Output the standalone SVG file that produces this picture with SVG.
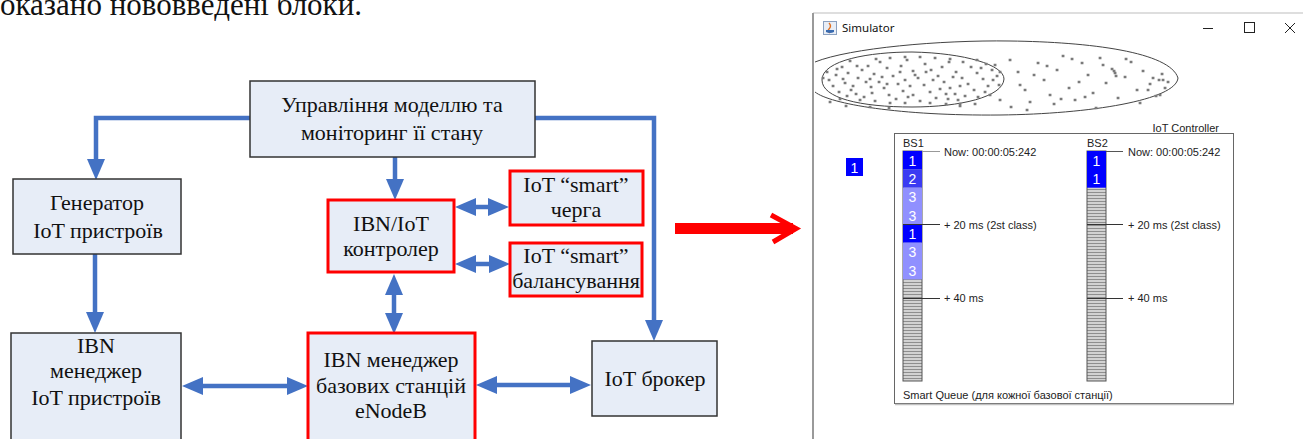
<svg xmlns="http://www.w3.org/2000/svg" width="1303" height="439" viewBox="0 0 1303 439">
  <style>
    .box { fill: #e7edf7; stroke: #333; stroke-width: 1.5; }
    .new { fill: #e7edf7; stroke: #ff0000; stroke-width: 3; }
    .lbl { font-family: "Liberation Serif", "Times New Roman", serif; font-size: 22px; fill: #111; text-anchor: middle; }
    .conn { fill: none; stroke: #4472c4; stroke-width: 4.5; }
    .ui { font-family: "Liberation Sans", Arial, sans-serif; font-size: 11px; fill: #222; }
    .cell { font-family: "Liberation Sans", Arial, sans-serif; font-size: 14px; fill: #fff; text-anchor: middle; }
    .tick { stroke: #333; stroke-width: 1; }
  </style>
  <defs>
    <marker id="arrow" markerUnits="userSpaceOnUse" markerWidth="22" markerHeight="18" refX="10" refY="9" orient="auto-start-reverse">
      <path d="M0,0 L21,9 L0,18 z" fill="#4472c4"/>
    </marker>
    <pattern id="stripes" patternUnits="userSpaceOnUse" width="19" height="3">
      <rect width="19" height="3" fill="#d2d2d2"/>
      <rect width="19" height="1" fill="#8e8e8e"/>
    </pattern>
  </defs>

  <rect width="1303" height="439" fill="#fff"/>

  <!-- paragraph text above the figure -->
  <text x="0" y="15" font-family="Liberation Serif, serif" font-size="31" fill="#111">оказано нововведені блоки.</text>

  <!-- connectors -->
  <g id="connectors" class="conn">
    <path d="M250,118 H96 V169" marker-end="url(#arrow)"/>
    <path d="M535,118 H654 V330" marker-end="url(#arrow)"/>
    <path d="M395,157 V189" marker-end="url(#arrow)"/>
    <path d="M95,254 V322" marker-end="url(#arrow)"/>
    <path d="M466,207 H498" marker-start="url(#arrow)" marker-end="url(#arrow)"/>
    <path d="M466,264 H499" marker-start="url(#arrow)" marker-end="url(#arrow)"/>
    <path d="M394,285 V323" marker-start="url(#arrow)" marker-end="url(#arrow)"/>
    <path d="M193,386 H297" marker-start="url(#arrow)" marker-end="url(#arrow)"/>
    <path d="M487,385 H580" marker-start="url(#arrow)" marker-end="url(#arrow)"/>
  </g>

  <g id="model-control">
    <rect class="box" x="250" y="81" width="285" height="76"/>
    <text class="lbl" x="392" y="112">Управління моделлю та</text>
    <text class="lbl" x="392" y="140">моніторинг її стану</text>
  </g>

  <g id="generator">
    <rect class="box" x="13" y="179" width="168" height="75"/>
    <text class="lbl" x="97" y="210">Генератор</text>
    <text class="lbl" x="98" y="238">IoT пристроїв</text>
  </g>

  <g id="ibn-iot-controller">
    <rect class="new" x="328" y="200" width="126" height="72"/>
    <text class="lbl" x="391" y="231">IBN/IoT</text>
    <text class="lbl" x="391" y="256">контролер</text>
  </g>

  <g id="smart-queue">
    <rect class="new" x="510" y="171" width="133" height="54"/>
    <text class="lbl" x="576" y="192">IoT “smart”</text>
    <text class="lbl" x="576" y="217">черга</text>
  </g>

  <g id="smart-balancing">
    <rect class="new" x="510" y="243" width="132" height="53"/>
    <text class="lbl" x="576" y="263">IoT “smart”</text>
    <text class="lbl" x="576" y="288">балансування</text>
  </g>

  <g id="ibn-device-manager">
    <rect class="box" x="11" y="333" width="170" height="110"/>
    <text class="lbl" x="96" y="353">IBN</text>
    <text class="lbl" x="96" y="378" font-size="20">менеджер</text>
    <text class="lbl" x="96" y="405">IoT пристроїв</text>
  </g>

  <g id="ibn-bs-manager">
    <rect class="new" x="308" y="333" width="167" height="110"/>
    <text class="lbl" x="391" y="367">IBN менеджер</text>
    <text class="lbl" x="391" y="393">базових станцій</text>
    <text class="lbl" x="391" y="418">eNodeB</text>
  </g>

  <g id="iot-broker">
    <rect class="box" x="592" y="341" width="125" height="75"/>
    <text class="lbl" x="655" y="386">IoT брокер</text>
  </g>

  <!-- red transition arrow -->
  <g id="red-arrow">
    <rect x="675" y="223" width="118" height="11" fill="#ff0000"/>
    <polyline points="771,215 796,228.5 773,242" fill="none" stroke="#ff0000" stroke-width="5" stroke-linejoin="miter"/>
  </g>

  <!-- simulator window -->
  <g id="simulator-window">
    <line x1="813" y1="13" x2="1303" y2="13" stroke="#bdbdbd" stroke-width="1"/>
    <line x1="813" y1="13" x2="813" y2="439" stroke="#9a9a9a" stroke-width="2"/>
    <!-- title bar icon -->
    <rect x="823.5" y="21.5" width="13" height="13" fill="#e9eef6" stroke="#8aa0c0" stroke-width="1"/>
    <path d="M829,23 q3,3 0,6 q-2,2 1,4" fill="none" stroke="#e07020" stroke-width="1.4"/>
    <path d="M826,30 h8 v2 q-4,2 -8,0 z" fill="#3a6bb0"/>
    <text x="842" y="32" font-family="Noto Sans, Open Sans, sans-serif" font-size="11.5" fill="#111">Simulator</text>
    <!-- window buttons -->
    <line x1="1203" y1="28.5" x2="1213" y2="28.5" stroke="#222" stroke-width="1"/>
    <rect x="1244.5" y="22.5" width="10" height="10" fill="none" stroke="#222" stroke-width="1"/>
    <path d="M1285,23 L1295,33 M1295,23 L1285,33" stroke="#222" stroke-width="1"/>
  </g>

  <g id="coverage-map">
    <path d="M815,62 C850,48 940,40 1010,41 C1090,42 1170,52 1178,78 C1176,100 1090,114 1000,115 C900,116 830,104 815,92" fill="none" stroke="#444" stroke-width="1"/>
    <path d="M822,80 C822,60 870,52 912,52 C965,53 1004,65 1004,79 C1003,97 960,107 912,107 C860,107 822,98 822,80 z" fill="none" stroke="#444" stroke-width="1"/>
    <path fill="none" stroke="#7a7a7a" stroke-width="2.7" stroke-linecap="square" d="M842,67h.1M848,73h.1M836,75h.1M829,80h.1M833,86h.1M845,83h.1M851,90h.1M858,78h.1M862,70h.1M868,66h.1M874,74h.1M879,82h.1M884,88h.1M872,93h.1M864,97h.1M856,94h.1M847,96h.1M839,92h.1M880,62h.1M887,68h.1M893,76h.1M898,84h.1M903,91h.1M908,97h.1M896,99h.1M889,95h.1M901,66h.1M907,60h.1M913,71h.1M918,78h.1M924,85h.1M930,92h.1M936,98h.1M920,101h.1M913,95h.1M925,64h.1M931,70h.1M938,76h.1M944,82h.1M950,88h.1M955,94h.1M948,99h.1M942,67h.1M949,62h.1M956,72h.1M962,78h.1M968,84h.1M974,90h.1M965,96h.1M958,100h.1M971,67h.1M977,73h.1M983,79h.1M988,86h.1M993,80h.1M985,92h.1M978,97h.1M986,64h.1M992,70h.1M997,76h.1M866,82h.1M871,87h.1M853,86h.1M857,66h.1M850,61h.1M876,59h.1M890,58h.1M905,57h.1M920,57h.1M935,58h.1M950,59h.1M963,62h.1M977,60h.1M860,100h.1M875,101h.1M890,103h.1M905,103h.1M930,103h.1M946,104h.1M960,104h.1M827,72h.1M823,78h.1M840,99h.1M843,79h.1M837,69h.1M900,72h.1M905,80h.1M910,86h.1M915,75h.1M933,80h.1M940,89h.1M953,77h.1M960,86h.1M882,77h.1M887,84h.1M870,79h.1M926,72h.1M946,94h.1M981,68h.1M990,95h.1M999,85h.1M830,102h.1M846,106h.1M870,107h.1M889,108h.1M960,106h.1M975,104h.1M1000,100h.1M995,65h.1M1000,72h.1M1010,60h.1M1018,72h.1M1025,90h.1M1030,102h.1M1038,63h.1M1044,80h.1M1050,95h.1M1057,70h.1M1063,56h.1M1069,88h.1M1075,100h.1M1082,63h.1M1088,75h.1M1093,93h.1M1100,58h.1M1106,83h.1M1112,69h.1M1118,98h.1M1125,77h.1M1131,62h.1M1137,90h.1M1143,71h.1M1150,84h.1M1156,96h.1M1162,74h.1M1168,82h.1M1115,73h.1M1116,76h.1M1114,71h.1M1159,80h.1M1163,80h.1M1148,90h.1M1020,85h.1M1034,75h.1M1047,66h.1M1061,99h.1M1079,82h.1M1096,108h.1M1103,65h.1M1126,59h.1M1140,103h.1M1054,104h.1M1072,59h.1M1085,97h.1M1011,107h.1M1027,110h.1M1165,88h.1M1160,95h.1M1153,78h.1"/>
  </g>

  <!-- active class indicator -->
  <g id="class-indicator">
    <rect x="846" y="158" width="17" height="18" fill="#0000ff"/>
    <text class="cell" x="854.5" y="172.5">1</text>
  </g>

  <g id="iot-controller-panel">
    <text class="ui" x="1219" y="132" text-anchor="end">IoT Controller</text>
    <rect x="894.5" y="133.5" width="339" height="270" fill="#fff" stroke="#666" stroke-width="1"/>
    <line x1="895" y1="404.5" x2="1234" y2="404.5" stroke="#c0c0c0" stroke-width="1.5"/>
    <text class="ui" x="903" y="399">Smart Queue (для кожної базової станції)</text>
  </g>

  <g id="queue-bs1">
    <text class="ui" x="903" y="147">BS1</text>
    <rect x="903" y="151" width="19" height="230" fill="url(#stripes)" stroke="#555" stroke-width="1"/>
    <rect x="903" y="151" width="19" height="18.4" fill="#0000ff"/>
    <rect x="903" y="169.3" width="19" height="18.4" fill="#3b3bf2"/>
    <rect x="903" y="187.7" width="19" height="18.4" fill="#9090ff"/>
    <rect x="903" y="206" width="19" height="18.4" fill="#9090ff"/>
    <rect x="903" y="224.3" width="19" height="18.4" fill="#0000ff"/>
    <rect x="903" y="242.7" width="19" height="18.4" fill="#9090ff"/>
    <rect x="903" y="261" width="19" height="18.4" fill="#9090ff"/>
    <text class="cell" x="912.5" y="165.5">1</text>
    <text class="cell" x="912.5" y="184">2</text>
    <text class="cell" x="912.5" y="202">3</text>
    <text class="cell" x="912.5" y="220.5">3</text>
    <text class="cell" x="912.5" y="239">1</text>
    <text class="cell" x="912.5" y="257">3</text>
    <text class="cell" x="912.5" y="275.5">3</text>
    <line x1="922" y1="151.5" x2="940" y2="151.5" stroke="#999" stroke-width="1"/>
    <line class="tick" x1="903" y1="224.5" x2="940" y2="224.5"/>
    <line class="tick" x1="903" y1="298.5" x2="940" y2="298.5"/>
    <text class="ui" x="944" y="156">Now: 00:00:05:242</text>
    <text class="ui" x="944" y="229">+ 20 ms (2st class)</text>
    <text class="ui" x="944" y="302">+ 40 ms</text>
  </g>

  <g id="queue-bs2">
    <text class="ui" x="1087" y="147" fill="#9a9a9a">BS2</text>
    <rect x="1087" y="151" width="19" height="230" fill="url(#stripes)" stroke="#555" stroke-width="1"/>
    <rect x="1087" y="151" width="19" height="36.7" fill="#0000ff"/>
    <text class="cell" x="1096.5" y="165.5">1</text>
    <text class="cell" x="1096.5" y="184">1</text>
    <line x1="1106" y1="151.5" x2="1123" y2="151.5" stroke="#555" stroke-width="1"/>
    <line class="tick" x1="1087" y1="224.5" x2="1123" y2="224.5"/>
    <line class="tick" x1="1087" y1="298.5" x2="1123" y2="298.5"/>
    <text class="ui" x="1128" y="156">Now: 00:00:05:242</text>
    <text class="ui" x="1128" y="229">+ 20 ms (2st class)</text>
    <text class="ui" x="1128" y="302">+ 40 ms</text>
  </g>
</svg>
